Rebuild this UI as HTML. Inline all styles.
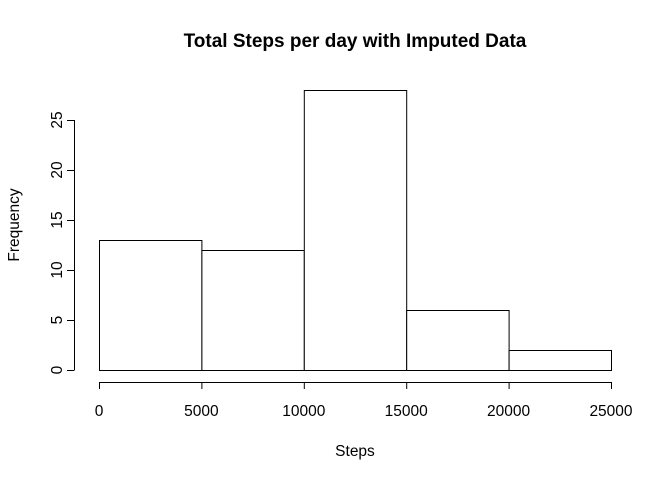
<!DOCTYPE html>
<html><head><meta charset="utf-8"><style>
html,body{margin:0;padding:0;background:#fff}
svg{display:block;font-family:"Liberation Sans",Arial,sans-serif}
</style></head><body>
<svg id="chart" width="672" height="480" viewBox="0 0 672 480">
<text x="355" y="47" text-anchor="middle" font-size="19" font-weight="bold">Total Steps per day with Imputed Data</text>
<text x="355" y="456" text-anchor="middle" font-size="15.5">Steps</text>
<text x="19" y="225" text-anchor="middle" font-size="15.5" transform="rotate(-90 19 225)">Frequency</text>
<g id="bars"></g>
<g id="xaxis"></g>
<g id="yaxis"></g>
</svg>
<script>
const binStarts=[0,5000,10000,15000,20000];
const binWidth=5000;
const counts=[13,12,28,6,2];
const xTicks=[0,5000,10000,15000,20000,25000];
const yTicks=[0,5,10,15,20,25];
const NS="http://www.w3.org/2000/svg";
function sx(v){return 99+v*(611-99)/25000;}
function sy(v){return 370-v*10;}
function mk(t,a,p){const e=document.createElementNS(NS,t);for(const k in a)e.setAttribute(k,a[k]);p.appendChild(e);return e;}
const bars=document.getElementById('bars');
binStarts.forEach((b,i)=>{
 const r=mk('rect',{x:sx(b)+0.5,y:sy(counts[i])+0.5,width:sx(b+binWidth)-sx(b),height:sy(0)-sy(counts[i]),fill:'#fff',stroke:'#000','stroke-width':1},bars);
 
 
});
const xa=document.getElementById('xaxis');
mk('line',{x1:sx(xTicks[0]),x2:sx(xTicks[xTicks.length-1]),y1:382.5,y2:382.5,stroke:'#000'},xa);
xTicks.forEach(t=>{
 mk('line',{x1:sx(t)+0.5,x2:sx(t)+0.5,y1:382,y2:389,stroke:'#000'},xa);
 const tx=mk('text',{x:sx(t),y:416,'text-anchor':'middle','font-size':15.5},xa);
 tx.textContent=t;
 
 
});
const ya=document.getElementById('yaxis');
mk('line',{x1:74.5,x2:74.5,y1:sy(yTicks[0]),y2:sy(yTicks[yTicks.length-1]),stroke:'#000'},ya);
yTicks.forEach(t=>{
 mk('line',{x1:67,x2:74.5,y1:sy(t)+0.5,y2:sy(t)+0.5,stroke:'#000'},ya);
 const tx=mk('text',{x:62,y:sy(t),'text-anchor':'middle','font-size':15.5,transform:'rotate(-90 62 '+sy(t)+')'},ya);
 tx.textContent=t;
 
 
});
</script>
</body></html>
